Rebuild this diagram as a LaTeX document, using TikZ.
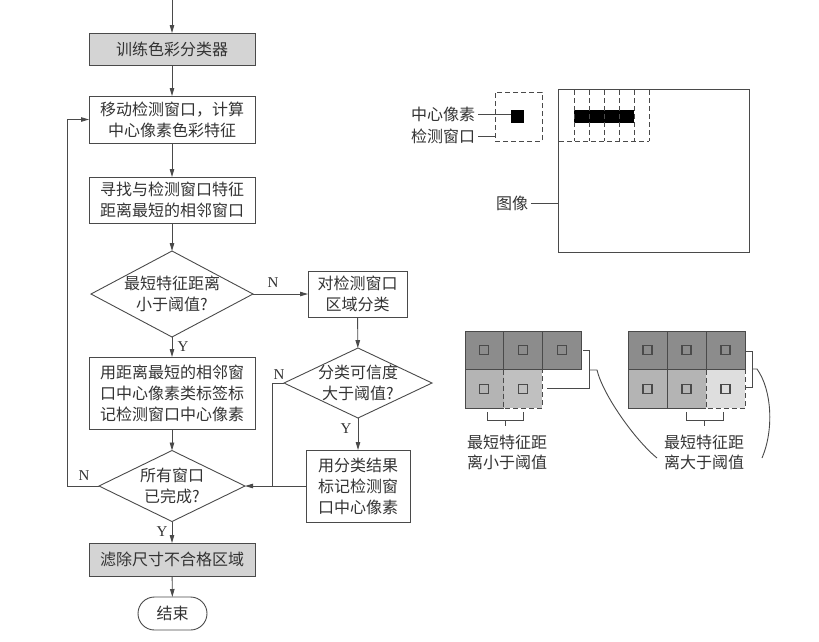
\documentclass[tikz,border=0pt]{standalone}
\usepackage{fontspec}
\newfontfamily\cjk{Noto Sans CJK SC}
\setmainfont{Liberation Serif}
\usetikzlibrary{shapes.geometric,arrows.meta,calc}
\definecolor{ln}{HTML}{4A4A4A}
\definecolor{tx}{HTML}{333333}
\definecolor{boxgray}{HTML}{D4D4D4}
\definecolor{cdark}{HTML}{8C8C8C}
\definecolor{cmid}{HTML}{B4B4B4}
\definecolor{cmidl}{HTML}{C0C0C0}
\definecolor{clight}{HTML}{DEDEDE}
\begin{document}
\begin{tikzpicture}[x=1pt,y=-1pt,
  every node/.style={inner sep=0pt, outer sep=0pt},
  txt/.style={font=\cjk\fontsize{16}{21}\selectfont, text=tx, align=center},
  lbl/.style={font=\cjk\fontsize{16}{20}\selectfont, text=tx, align=center},
  proc/.style={draw=ln, line width=0.9pt, txt, minimum width=166pt},
  dia/.style={draw=ln, line width=0.9pt, diamond},
  conn/.style={draw=ln, line width=0.9pt},
  arr/.style={conn, -{Triangle[length=8pt,width=4.5pt]}},
  yn/.style={font=\fontsize{15}{15}\selectfont, text=tx},
  dsh/.style={draw=ln, line width=0.9pt, dash pattern=on 5pt off 3pt}]
\useasboundingbox (0,0) rectangle (819,641);

% ---------- flowchart ----------
\coordinate (start) at (172,0);
\node[proc, fill=boxgray, minimum height=32pt] (b1) at (172,49) {训练色彩分类器};
\node[proc, minimum height=47pt] (b2) at (172,119.5) {移动检测窗口，计算\\中心像素色彩特征};
\node[proc, minimum height=46pt] (b3) at (172,200) {寻找与检测窗口特征\\距离最短的相邻窗口};
\node[dia, minimum width=162pt, minimum height=86pt] (d1) at (172,294) {};
\node[txt] (d1t) at (d1) {最短特征距离\\小于阈值?};
\node[draw=ln, line width=0.9pt, txt, minimum width=99pt, minimum height=46pt] (b4) at (357.5,294) {对检测窗口\\区域分类};
\node[dia, minimum width=148pt, minimum height=70pt] (d2) at (358,383) {};
\node[txt] (d2t) at (d2) {分类可信度\\大于阈值?};
\node[proc, minimum height=72pt] (b5) at (172,393) {用距离最短的相邻窗\\口中心像素类标签标\\记检测窗口中心像素};
\node[draw=ln, line width=0.9pt, txt, minimum width=104pt, minimum height=72pt] (b6) at (358,486) {用分类结果\\标记检测窗\\口中心像素};
\node[dia, minimum width=146pt, minimum height=71pt] (d3) at (172,486) {};
\node[txt] (d3t) at (d3) {所有窗口\\已完成?};
\node[proc, fill=boxgray, minimum height=33pt] (b7) at (172,559.5) {滤除尺寸不合格区域};
\node[draw=ln, line width=0.9pt, txt, minimum width=69pt, minimum height=33pt, rounded corners=16.5pt] (end) at (172.5,613.5) {结束};
\coordinate (j) at (272,486);

\draw[arr] (start) -- (b1);
\draw[arr] (b1) -- (b2);
\draw[arr] (b2) -- (b3);
\draw[arr] (b3) -- (d1);
\draw[arr] (d1) -- (b5);
\draw[arr] (d1.east) -- (b4.west);
\draw[arr] (b4) -- (d2);
\draw[arr] (d2.south) -- (b6.north);
\draw[conn] (d2.west) -| (j);
\draw[arr] (b6.west) -- (d3.east);
\draw[arr] (b5) -- (d3);
\draw[arr] (d3.west) -- ++(-32,0) |- (b2.west);
\draw[arr] (d3.south) -- (b7.north);
\draw[arr] (b7) -- (end);

\node[yn] (n1) at (273,283) {N};
\node[yn] (y1) at (183,347) {Y};
\node[yn] (n2) at (279,375) {N};
\node[yn] (y2) at (346,429) {Y};
\node[yn] (n3) at (84,476) {N};
\node[yn] (y3) at (162,532) {Y};

% ---------- image with windows ----------
\node[draw=ln, line width=0.9pt, minimum width=191pt, minimum height=163pt] (img) at (653.5,170.5) {};
\node[txt, anchor=east] (limg) at (528,203) {图像};
\draw[conn, shorten <=3pt] (limg.east) -- (limg.east -| img.west);

\node[dsh, minimum width=47pt, minimum height=49pt] (win) at (518.5,116.5) {};
\node[fill=black, minimum size=13pt] (pix) at (517.5,116.5) {};
\node[txt, anchor=east] (lpix) at (475,114) {中心像素};
\node[txt, anchor=east] (lwin) at (475,136) {检测窗口};
\draw[conn, shorten <=3pt] (lpix.east) -- (lpix.east -| pix.west);
\draw[conn, shorten <=3pt] (lwin.east) -- (lwin.east -| win.west);

\fill[black] (574,110) rectangle (634,123);
\foreach \x in {574,589,604,619,634,649} \draw[dsh] (\x,90) -- (\x,141);
\draw[dsh] (559,141) -- (649,141);

% ---------- left grid ----------
\begin{scope}[shift={(465,331)}]
  \foreach \i in {0,1,2} \fill[cdark] (\i*38.67,0) rectangle ++(38.67,38.5);
  \fill[cmid] (0,38.5) rectangle ++(38.67,38.5);
  \fill[cmidl] (38.67,38.5) rectangle ++(38.67,38.5);
  \foreach \i in {0,1,2} \draw[conn] (\i*38.67,0) rectangle ++(38.67,38.5);
  \draw[conn] (0,38.5) -- (0,77) -- (38.67,77);
  \draw[dsh] (38.67,38.5) -- (38.67,77) -- (77.33,77) -- (77.33,38.5);
  \foreach \i/\j in {0/0,1/0,2/0,0/1,1/1}
    \draw[draw=ln, line width=1.2pt] (\i*38.67+19.33-4.5,\j*38.5+19.25-4.5) rectangle ++(9,9);
\end{scope}

% ---------- right grid ----------
\begin{scope}[shift={(628,331)}]
  \foreach \i in {0,1,2} \fill[cdark] (\i*39,0) rectangle ++(39,38.5);
  \fill[cmid] (0,38.5) rectangle ++(78,38.5);
  \fill[clight] (78,38.5) rectangle ++(39,38.5);
  \foreach \i in {0,1,2} \draw[conn] (\i*39,0) rectangle ++(39,38.5);
  \draw[conn] (78,77) -- (0,77) -- (0,38.5);
  \draw[conn] (39,38.5) -- (39,77);
  \draw[dsh] (78,38.5) -- (78,77) -- (117,77) -- (117,38.5);
  \foreach \i/\j in {0/0,1/0,2/0,0/1,1/1,2/1}
    \draw[draw=ln, line width=1.2pt] (\i*39+19.5-4.5,\j*38.5+19.25-4.5) rectangle ++(9,9);
\end{scope}

% ---------- brackets and labels ----------
\node[lbl] (lab1) at (507,452) {最短特征距\\离小于阈值};
\node[lbl] (lab2) at (704,452) {最短特征距\\离大于阈值};

\draw[conn] (583,350) -- (589,350) -- (589,388) -- (547,388);
\draw[conn] (589,370) -- (597,370) .. controls (603,395) and (635,440) .. (657,458);
\draw[conn] (746,351) -- (752,351) -- (752,387) -- (746,387);
\draw[conn] (752,369) -- (757,369) .. controls (772,390) and (774,430) .. (762,458);

\draw[conn] (487,412) -- (487,420) -- (523,420) -- (523,412);
\draw[conn] (505,420) -- (505,426);
\draw[conn] (686,412) -- (686,420) -- (723,420) -- (723,412);
\draw[conn] (704.5,420) -- (704.5,426);
\end{tikzpicture}
\end{document}
